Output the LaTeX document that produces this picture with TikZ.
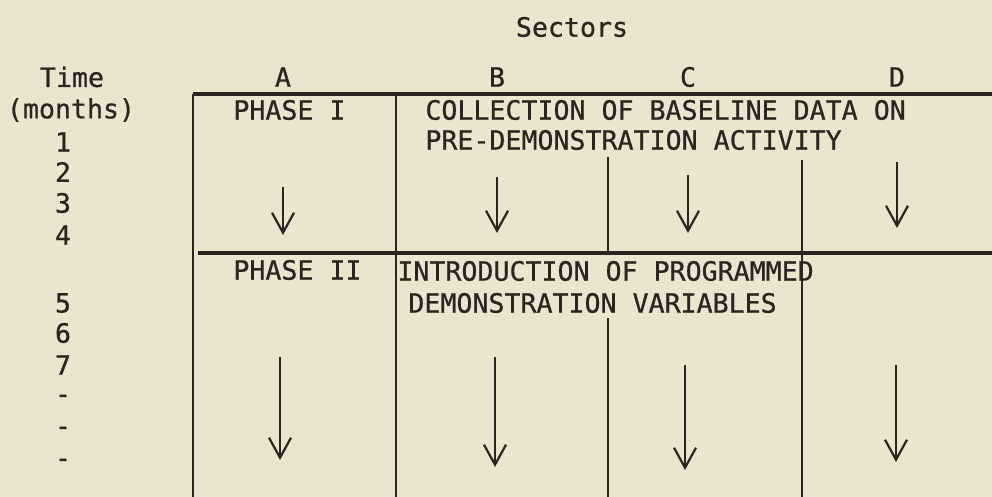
\documentclass[tikz,border=0pt]{standalone}
\usepackage{fontspec}
\newfontfamily\typew{DejaVu Sans Mono}[FakeBold=0.7]
\usepackage{xcolor}
\usetikzlibrary{arrows.meta}

\definecolor{paper}{HTML}{ECE4CE}
\definecolor{ink}{HTML}{2B2420}

\tikzset{
  lbl/.style={font=\typew\fontsize{13.3}{16}\selectfont, text=ink, inner sep=0pt},
  rule/.style={ink, line width=1.7pt},
  wall/.style={ink, line width=1.3pt},
  flow/.style={ink, line width=1.1pt, -{Straight Barb[length=10pt,width=11pt]}}
}

\begin{document}
\begin{tikzpicture}[x=0.5pt, y=-0.5pt]
                \fill[paper] (0,0) rectangle (992,497);
                \useasboundingbox (0,0) rectangle (992,497);
                % headings
                \node[lbl] (sectors) at (572,27) {Sectors};
                \node[lbl] (time) at (72,77) {Time};
                \node[lbl] (months) at (71,110) {(months)};
                \node[lbl] (secA) at (283,77) {A};
                \node[lbl] (secB) at (497,77) {B};
                \node[lbl] (secC) at (688,77) {C};
                \node[lbl] (secD) at (897,77) {D};
                % month numbers
                \node[lbl] (m1) at (63,142) {1};
                \node[lbl] (m2) at (63,172) {2};
                \node[lbl] (m3) at (63,203) {3};
                \node[lbl] (m4) at (63,235) {4};
                \node[lbl] (m5) at (63,303) {5};
                \node[lbl] (m6) at (63,333) {6};
                \node[lbl] (m7) at (63,365) {7};
                \node[lbl] (m8) at (63,399) {-};
                \node[lbl] (m9) at (63,431) {-};
                \node[lbl] (m10) at (63,463) {-};
                % grid
                \draw[rule] (193,94) -- (992,94);
                \draw[rule] (198,253) -- (992,253);
                \draw[wall] (193,94) -- (193,497);
                \draw[wall] (396,94) -- (396,497);
                \draw[wall] (608,157) -- (608,253);
                \draw[wall] (608,318) -- (608,497);
                \draw[wall] (802,160) -- (802,497);
                % phase I
                \node[lbl, anchor=west] (ph1) at (233,110) {PHASE I};
                \node[lbl, anchor=west] (ph1a) at (425,110) {COLLECTION OF BASELINE DATA ON};
                \node[lbl, anchor=west] (ph1b) at (425,140) {PRE-DEMONSTRATION ACTIVITY};
                \draw[flow] (283,187) -- (283,235);
                \draw[flow] (497,177) -- (497,233);
                \draw[flow] (688,175) -- (688,233);
                \draw[flow] (897,162) -- (897,228);
                % phase II
                \node[lbl, anchor=west] (ph2) at (233,270) {PHASE II};
                \node[lbl, anchor=west] (ph2a) at (397,271) {INTRODUCTION OF PROGRAMMED};
                \node[lbl, anchor=west] (ph2b) at (408,303) {DEMONSTRATION VARIABLES};
                \draw[flow] (280,357) -- (280,460);
                \draw[flow] (495,357) -- (495,467);
                \draw[flow] (685,365) -- (685,470);
                \draw[flow] (896,365) -- (896,462);
            \end{tikzpicture}
\end{document}
